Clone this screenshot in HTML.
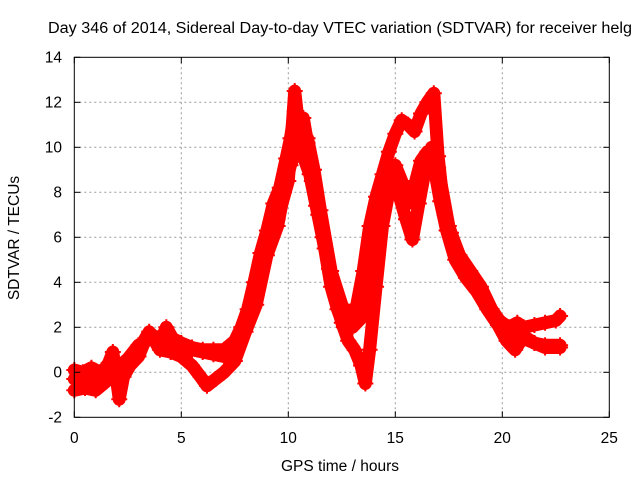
<!DOCTYPE html>
<html><head><meta charset="utf-8"><style>
body{margin:0;background:#fff}
svg{display:block;font-family:"Liberation Sans",sans-serif}
</style></head><body>
<svg id="chart" width="640" height="480" viewBox="0 0 640 480">
<rect width="640" height="480" fill="#fff"/>
<text x="340" y="33" font-size="15.5" text-anchor="middle" textLength="584" lengthAdjust="spacingAndGlyphs">Day 346 of 2014, Sidereal Day-to-day VTEC variation (SDTVAR) for receiver helg</text>
<g id="grid"></g><g id="data"></g><g id="axes"></g>
<text x="340" y="471" font-size="15.5" text-anchor="middle">GPS time / hours</text>
<text transform="translate(19,238) rotate(-90)" font-size="15.5" text-anchor="middle">SDTVAR / TECUs</text>
</svg>
<script>
const xTicks=[0,5,10,15,20,25];
const yTicks=[-2,0,2,4,6,8,10,12,14];
const tA=[0,0.3,0.6,1,1.3,1.6,1.8,2.1,2.3,2.6,3,3.3,3.6,4,4.3,4.6,5,5.5,6,6.5,7,7.5,7.8,8.1,8.4,8.7,9,9.3,9.6,9.9,10.1,10.3,10.5,10.7,10.9,11.1,11.4,11.7,12,12.3,12.6,12.9,13.2,13.5,13.8,14.1,14.4,14.7,15,15.3,15.6,15.9,16.2,16.5,16.8,17,17.3,17.6,18,18.5,19,19.5,20,20.5,21,21.5,22,22.7];
const vA=[-0.3,-0.5,-0.4,-0.3,0,0.4,0.9,-1.2,-0.2,0.3,0.7,1.4,1.7,1.3,2,1.5,1.3,1.1,1,1,1,1.4,2,2.8,4,5.3,6.3,7.5,8.2,9.5,10.4,11.6,11,11.3,10.2,8.5,7,5.5,3.8,2.8,2,2.3,3,4.5,6.5,7.8,8.8,9.8,10.6,11.2,11,10.7,11.5,12,12.4,9.6,7,6.2,5.2,4.5,3.8,2.8,2.1,1.8,1.5,1.3,1.2,1.2];
const tB=[0,0.4,0.8,1.2,1.6,2,2.5,3,3.5,4,4.5,5,5.5,5.9,6.2,6.6,7,7.5,8,8.5,9,9.5,9.8,10.1,10.4,10.7,11,11.3,11.6,11.9,12.2,12.5,12.8,13.1,13.4,13.6,13.8,14.1,14.4,14.7,15,15.3,15.6,15.9,16.2,16.5,16.8,17.1,17.4,17.8,18.3,18.8,19.3,19.8,20.2,20.6,21,21.5,22,22.7];
const vB=[0.1,0,0.2,0,-0.3,0.2,0.4,1,1.8,1,0.9,0.7,0.3,-0.2,-0.6,-0.3,0,0.5,1.8,3,5.2,6.5,8,9.2,10,9.6,8.8,7.4,6,4.6,3.4,2.2,1.4,1,0.3,-0.5,1,3.8,6.5,8,9.2,8.5,7.5,8.3,9.4,9.8,9.2,7.6,6.3,5,4.2,3.6,2.8,2.1,1.4,1,1.6,1.3,1.1,1.1];
const tC=[0,0.5,1,1.5,2,2.5,3,3.5,4,4.5,5,5.5,6,6.5,7,7.5,8,8.5,9,9.5,10,10.3,10.6,10.9,11.2,11.5,12,12.5,13,13.5,14,14.3,14.6,14.9,15.2,15.5,15.8,16.1,16.4,16.7,17,17.5,18,18.5,19,19.5,20,20.3,20.7,21,21.5,22,22.5,22.7];
const vC=[-0.8,-0.7,-0.8,-0.4,0.2,0.6,1.2,1.5,1.6,1,1,1,0.9,0.8,0.7,1.2,2.3,3.5,5.8,6.8,8.5,12.5,10,10.4,9,7.2,4.5,3,2,2.5,4.5,6.8,8.4,8.8,7.8,6.8,5.9,7.5,9,10,9.1,6.5,5,4.3,3.5,2.6,2.2,2,2.2,2,2.1,2.2,2.3,2.5];
const X=t=>74.3+t*21.4, Y=v=>417.3-(v+2)*22.5;
const NS='http://www.w3.org/2000/svg';
const grid=document.getElementById('grid'),axes=document.getElementById('axes'),data=document.getElementById('data');
function mk(tag,attrs,parent){const e=document.createElementNS(NS,tag);for(const k in attrs)e.setAttribute(k,attrs[k]);parent.appendChild(e);return e;}
xTicks.forEach(t=>{
 if(t>0&&t<25){const g=mk('line',{x1:X(t),x2:X(t),y1:Y(14),y2:Y(-2),stroke:'#999','stroke-dasharray':'2,3'},grid);
 
 }
 const l=mk('text',{x:X(t),y:443,'font-size':15.5,'text-anchor':'middle'},axes);l.textContent=t;
 
 
 mk('line',{x1:X(t),x2:X(t),y1:Y(-2),y2:Y(-2)-6,stroke:'#000'},axes);
 mk('line',{x1:X(t),x2:X(t),y1:Y(14),y2:Y(14)+6,stroke:'#000'},axes);
});
yTicks.forEach(v=>{
 if(v>-2&&v<14){const g=mk('line',{x1:X(0),x2:X(25),y1:Y(v),y2:Y(v),stroke:'#999','stroke-dasharray':'2,3'},grid);
 
 }
 const l=mk('text',{x:62,y:Y(v)+5,'font-size':15.5,'text-anchor':'end'},axes);l.textContent=v;
 
 
 mk('line',{x1:X(0),x2:X(0)+6,y1:Y(v),y2:Y(v),stroke:'#000'},axes);
 mk('line',{x1:X(25),x2:X(25)-6,y1:Y(v),y2:Y(v),stroke:'#000'},axes);
});
const fr=mk('rect',{x:X(0),y:Y(14),width:X(25)-X(0),height:Y(-2)-Y(14),fill:'none',stroke:'#000'},axes);


[[tA,vA],[tB,vB],[tC,vC]].forEach(([ts,vs],si)=>{
 const p=mk('polyline',{points:ts.map((t,i)=>X(t)+','+Y(vs[i])).join(' '),fill:'none',stroke:'#f00','stroke-width':13,'stroke-linejoin':'round','stroke-linecap':'round'},data);
 
 
 ts.forEach((t,i)=>{
  const m=mk('path',{d:`M${X(t)-8},${Y(vs[i])}h16M${X(t)},${Y(vs[i])-8}v16`,stroke:'#f00','stroke-width':2},data);
  
  
 });
});
</script>
</body></html>
